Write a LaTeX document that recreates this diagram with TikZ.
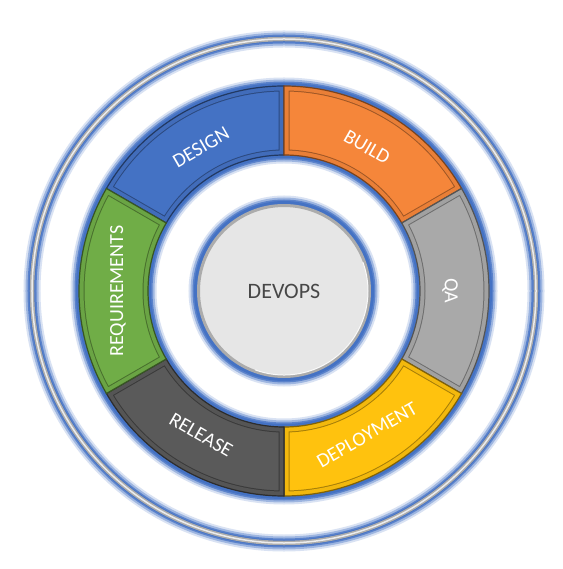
\documentclass[tikz,border=0pt]{standalone}
\usepackage{fontspec}
\setmainfont{Carlito}
\usetikzlibrary{calc}
\usepackage{xcolor}
\definecolor{glw}{HTML}{4472C4}
\definecolor{dsg}{HTML}{4472C4}
\definecolor{bld}{HTML}{F5863A}
\definecolor{qas}{HTML}{A9A9A9}
\definecolor{dpl}{HTML}{FFC20E}
\definecolor{rls}{HTML}{5A5A5A}
\definecolor{req}{HTML}{70AD47}
\definecolor{hub}{HTML}{E6E6E6}
\definecolor{txt}{HTML}{474747}
\tikzset{
  seglbl/.style = {font=\fontsize{20}{24}\selectfont, text=white, inner sep=0pt},
  hubnode/.style= {circle, fill=hub, draw=gray!65, line width=3pt,
                   minimum size=171pt, inner sep=0pt,
                   font=\fontsize{22}{26}\selectfont, text=txt},
  tube/.style   = {draw=gray!65, line width=4.5pt},
  tubehi/.style = {draw=gray!15, line width=1.5pt},
}
\newcommand\glowring[1]{%
  \foreach \w/\o in {17/0.2, 13/0.4, 9/0.75, 6/1}
    \draw[glw, opacity=\o, line width=\w pt] (0,0) circle[radius=#1];}
\newcommand\segpath{(\a:205) arc[start angle=\a, end angle=\b, radius=205]
  -- (\b:136) arc[start angle=\b, end angle=\a, radius=136] -- cycle}

\begin{document}
\begin{tikzpicture}[x=1pt, y=1pt]

  \fill[white] (-284,-278) rectangle (278,291);
  \useasboundingbox (-284,-278) rectangle (278,291);

  % ── outer ring
  \glowring{252}
  \draw[tube]   (0,0) circle[radius=252];
  \draw[tubehi] (0,0) circle[radius=252];

  % ── segment ring
  \glowring{205}
  \glowring{136}
  \foreach \a/\b/\c/\t/\n in {90/150/dsg/DESIGN/design, 30/90/bld/BUILD/build,
      -30/30/qas/QA/qa, -90/-30/dpl/DEPLOYMENT/deploy,
      -150/-90/rls/RELEASE/release, 150/210/req/REQUIREMENTS/req}{
    \pgfmathsetmacro\m{(\a+\b)/2}
    \pgfmathsetmacro\r{\m<0 ? \m+90 : \m-90}
    \fill[\c] \segpath;
    \begin{scope}
      \clip \segpath;
      \draw[\c!65!black, line width=11pt] \segpath;
      \draw[\c!95!black, line width=9pt] \segpath;
    \end{scope}
    \draw[\c!50!black, line width=1.2pt] \segpath;
    \node[seglbl, rotate=\r] (lbl-\n) at (\m:166) {\t};
  }

  % ── hub
  \glowring{87}
  \node[hubnode] (hub) at (0,0) {DEVOPS};
  \draw[white, line width=1pt, opacity=0.9]
    (hub.center) ++(-110:84) arc[start angle=-110, end angle=20, radius=84];

\end{tikzpicture}
\end{document}
